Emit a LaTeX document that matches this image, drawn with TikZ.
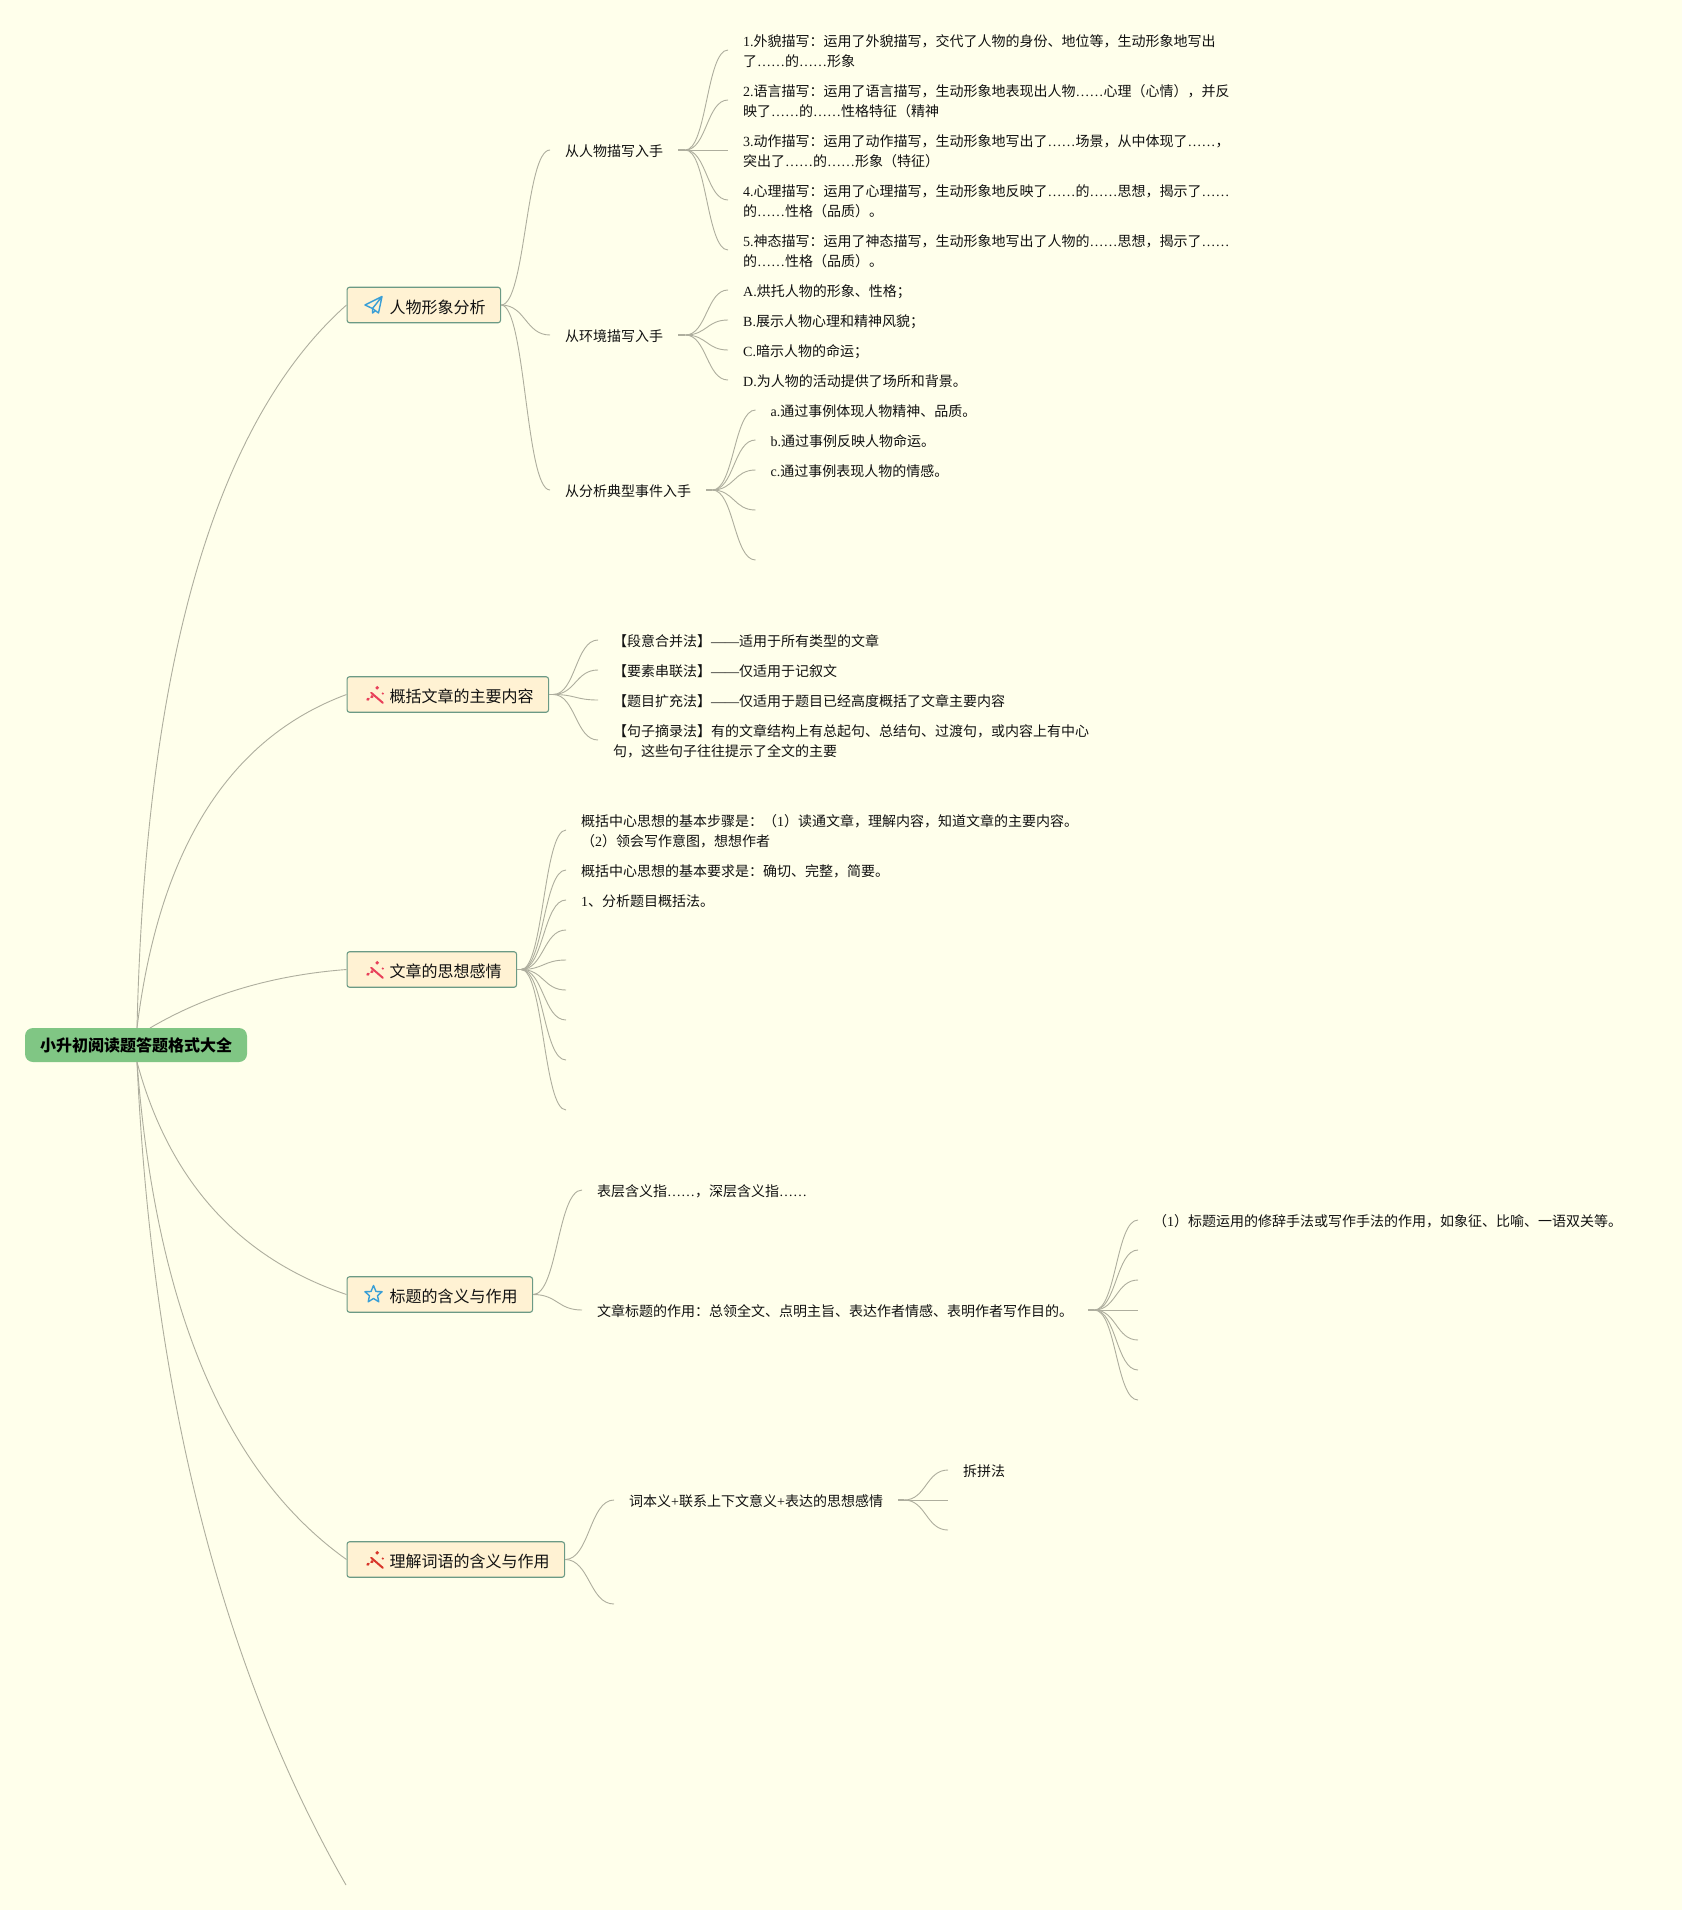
\documentclass[tikz,border=0pt]{standalone}
\usepackage{fontspec}
\usetikzlibrary{calc}
\setmainfont{Noto Sans CJK SC}
\newfontfamily\latf{Liberation Serif}
\newcommand\lat[1]{{\latf #1}}
\newcommand\st{\rule[-3.4pt]{0pt}{20pt}}
\definecolor{bgc}{HTML}{FFFFEB}
\definecolor{linec}{HTML}{AEAE9E}
\definecolor{rootc}{HTML}{80C684}
\definecolor{topicf}{HTML}{FFF2D3}
\definecolor{topicb}{HTML}{6B9A85}
\definecolor{inkc}{HTML}{111111}
\definecolor{bluei}{HTML}{3A9FD6}
\definecolor{wandp}{HTML}{E8405A}
\definecolor{wandr}{HTML}{D8352A}
\tikzset{
 link/.style={draw=linec,line width=0.9pt},
 stubline/.style={draw=linec,line width=1.5pt},
 rootn/.style={fill=rootc,rounded corners=8pt,minimum width=222pt,minimum height=34pt,inner sep=0pt,text=black,font=\fontsize{16}{20}\selectfont\bfseries},
 topicn/.style={fill=topicf,draw=topicb,line width=1.1pt,rounded corners=2.5pt,minimum height=35.5pt,inner xsep=15pt,inner ysep=0pt,text height=18pt,text depth=2pt,anchor=west,text=inkc,font=\fontsize{16}{20}\selectfont},
 leafn/.style={inner xsep=15pt,inner ysep=0pt,anchor=west,align=left,text=inkc,font=\fontsize{14}{20}\selectfont},
 iconl/.style={line width=1.4pt,line join=round,line cap=round,fill=none},
}
\newcommand\conn[2]{\draw[link] let \p1=(#1),\p2=(#2),\n1={(\x1+\x2)/2} in (\p1) .. controls (\n1,\y1) and (\n1,\y2) .. (\p2);}
\newcommand\qconn[3]{\draw[link] (#1) .. controls ($(#1)!.667!(#2)$) and ($(#3)!.667!(#2)$) .. (#3);}
\newcommand\stub[3]{\draw[stubline] (#1) -- ++(#3,0) coordinate (#2);}
\newcommand\plane[1]{\begin{scope}[shift={(#1)}]\draw[bluei,iconl] (-8.5,0)--(8.5,-8.5)--(5,8)--(-1,3.5)--cycle (8.5,-8.5)--(-1,3.5)--(-1,8)--(2,5.6);\end{scope}}
\newcommand\staricon[1]{\begin{scope}[shift={(#1)}]\draw[bluei,iconl] (0,-9)--(2.5,-3)--(8.6,-2.8)--(4,1.2)--(5.3,7.3)--(0,4)--(-5.3,7.3)--(-4,1.2)--(-8.6,-2.8)--(-2.5,-3)--cycle;\end{scope}}
\newcommand\wand[2]{\begin{scope}[shift={(#1)}]\draw[#2,line width=2pt,line cap=round] (-3.3,-2.7)--(8.3,7.3);\draw[#2,line width=2.6pt,line cap=round] (-7,4)--(-6,3.4) (-3,1.5)--(-2,0.8);\fill[#2] (2.7,-7.7) circle (1.9) (8.3,-2) circle (1.2);\end{scope}}
\begin{document}
\begin{tikzpicture}[x=1pt,y=-1pt]
\useasboundingbox (0,0) rectangle (1682,1910);
\fill[bgc] (0,0) rectangle (1682,1910);
% root
\node[rootn] (root) at (136,1045) {小升初阅读题答题格式大全};
\coordinate (rtop) at (137,1028);
\coordinate (rtop3) at (150,1028);
\coordinate (rbot) at (137,1062);
% topics
\node[topicn] (t1) at (346.5,305) {\hspace*{27.5pt}人物形象分析};
\node[topicn] (t2) at (346.5,694.5) {\hspace*{27.5pt}概括文章的主要内容};
\node[topicn] (t3) at (346.5,969.5) {\hspace*{27.5pt}文章的思想感情};
\node[topicn] (t4) at (346.5,1294.5) {\hspace*{27.5pt}标题的含义与作用};
\node[topicn] (t5) at (346.5,1559.5) {\hspace*{27.5pt}理解词语的含义与作用};
\coordinate (t6) at (346,1885);
\plane{$(t1.west)+(27,0)$}
\wand{$(t2.west)+(28,1)$}{wandp}
\wand{$(t3.west)+(28,1)$}{wandp}
\staricon{$(t4.west)+(27,0)$}
\wand{$(t5.west)+(28,1)$}{wandr}
\coordinate (c1) at (150,480);
\coordinate (c2) at (170,760);
\coordinate (c3) at (235,978);
\coordinate (c4) at (185,1240);
\coordinate (c5) at (165,1430);
\coordinate (c6) at (160,1560);
\qconn{rtop}{c1}{t1.west}
\qconn{rtop}{c2}{t2.west}
\qconn{rtop3}{c3}{t3.west}
\qconn{rbot}{c4}{t4.west}
\qconn{rbot}{c5}{t5.west}
\qconn{rbot}{c6}{t6}
% t1 children
\node[leafn] (a1) at (550,150) {\st 从人物描写入手};
\node[leafn] (a2) at (550,335) {\st 从环境描写入手};
\node[leafn] (a3) at (550,490) {\st 从分析典型事件入手};
\conn{t1.east}{a1.west}\conn{t1.east}{a2.west}\conn{t1.east}{a3.west}
\stub{a1.east}{f1}{7}\stub{a2.east}{f2}{7}\stub{a3.east}{f3}{6}
\node[leafn] (b1) at (728,50) {\st\lat{1.}外貌描写：运用了外貌描写，交代了人物的身份、地位等，生动形象地写出\\\st 了\lat{……}的\lat{……}形象};
\node[leafn] (b2) at (728,100) {\st\lat{2.}语言描写：运用了语言描写，生动形象地表现出人物\lat{……}心理（心情），并反\\\st 映了\lat{……}的\lat{……}性格特征（精神};
\node[leafn] (b3) at (728,150) {\st\lat{3.}动作描写：运用了动作描写，生动形象地写出了\lat{……}场景，从中体现了\lat{……}，\\\st 突出了\lat{……}的\lat{……}形象（特征）};
\node[leafn] (b4) at (728,200) {\st\lat{4.}心理描写：运用了心理描写，生动形象地反映了\lat{……}的\lat{……}思想，揭示了\lat{……}\\\st 的\lat{……}性格（品质）。};
\node[leafn] (b5) at (728,250) {\st\lat{5.}神态描写：运用了神态描写，生动形象地写出了人物的\lat{……}思想，揭示了\lat{……}\\\st 的\lat{……}性格（品质）。};
\foreach \nd in {b1,b2,b3,b4,b5}{\conn{f1}{\nd.west}}
\node[leafn] (c1n) at (728,290) {\st\lat{A.}烘托人物的形象、性格；};
\node[leafn] (c2n) at (728,320) {\st\lat{B.}展示人物心理和精神风貌；};
\node[leafn] (c3n) at (728,350) {\st\lat{C.}暗示人物的命运；};
\node[leafn] (c4n) at (728,380) {\st\lat{D.}为人物的活动提供了场所和背景。};
\foreach \nd in {c1n,c2n,c3n,c4n}{\conn{f2}{\nd.west}}
\node[leafn] (d1) at (755.5,410) {\st\lat{a.}通过事例体现人物精神、品质。};
\node[leafn] (d2) at (755.5,440) {\st\lat{b.}通过事例反映人物命运。};
\node[leafn] (d3) at (755.5,470) {\st\lat{c.}通过事例表现人物的情感。};
\coordinate (d4) at (755.5,510);
\coordinate (d5) at (755.5,560);
\foreach \nd in {d1.west,d2.west,d3.west,d4,d5}{\conn{f3}{\nd}}
% t2 children
\stub{t2.east}{f4}{4}
\node[leafn] (e1) at (598,640) {\st【段意合并法】\lat{——}适用于所有类型的文章};
\node[leafn] (e2) at (598,670) {\st【要素串联法】\lat{——}仅适用于记叙文};
\node[leafn] (e3) at (598,700) {\st【题目扩充法】\lat{——}仅适用于题目已经高度概括了文章主要内容};
\node[leafn] (e4) at (598,740) {\st【句子摘录法】有的文章结构上有总起句、总结句、过渡句，或内容上有中心\\\st 句，这些句子往往提示了全文的主要};
\foreach \nd in {e1,e2,e3,e4}{\conn{f4}{\nd.west}}
% t3 children
\stub{t3.east}{f5}{4}
\node[leafn] (g1) at (566,830) {\st 概括中心思想的基本步骤是：（\lat{1}）读通文章，理解内容，知道文章的主要内容。\\\st（\lat{2}）领会写作意图，想想作者};
\node[leafn] (g2) at (566,870) {\st 概括中心思想的基本要求是：确切、完整，简要。};
\node[leafn] (g3) at (566,900) {\st\lat{1}、分析题目概括法。};
\coordinate (g4) at (566,930);
\coordinate (g5) at (566,960);
\coordinate (g6) at (566,990);
\coordinate (g7) at (566,1020);
\coordinate (g8) at (566,1060);
\coordinate (g9) at (566,1110);
\foreach \nd in {g1.west,g2.west,g3.west,g4,g5,g6,g7,g8,g9}{\conn{f5}{\nd}}
% t4 children
\node[leafn] (h1) at (582,1190) {\st 表层含义指\lat{……}，深层含义指\lat{……}};
\node[leafn] (h2) at (582,1310) {\st 文章标题的作用：总领全文、点明主旨、表达作者情感、表明作者写作目的。};
\conn{t4.east}{h1.west}\conn{t4.east}{h2.west}
\stub{h2.east}{f6}{6}
\node[leafn] (i1) at (1138,1220) {\st（\lat{1}）标题运用的修辞手法或写作手法的作用，如象征、比喻、一语双关等。};
\foreach \i/\y in {2/1250,3/1280,4/1310,5/1340,6/1370,7/1400}{\coordinate (i\i) at (1138,\y);}
\foreach \nd in {i1.west,i2,i3,i4,i5,i6,i7}{\conn{f6}{\nd}}
% t5 children
\node[leafn] (j1) at (614,1500) {\st 词本义\lat{+}联系上下文意义\lat{+}表达的思想感情};
\coordinate (j2) at (614,1604);
\conn{t5.east}{j1.west}\conn{t5.east}{j2}
\stub{j1.east}{f7}{6}
\node[leafn] (k1) at (948,1470) {\st 拆拼法};
\coordinate (k2) at (948,1500);
\coordinate (k3) at (948,1530);
\foreach \nd in {k1.west,k2,k3}{\conn{f7}{\nd}}
\end{tikzpicture}
\end{document}
